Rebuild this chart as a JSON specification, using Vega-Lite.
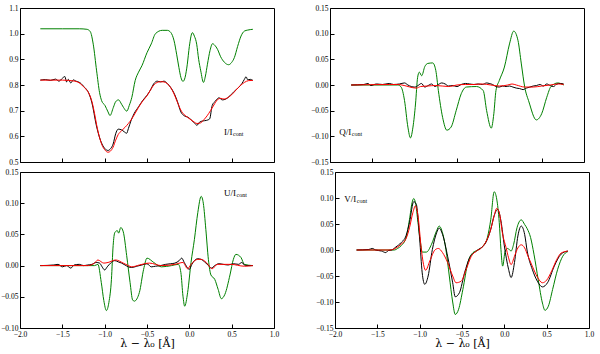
{
"$schema": "https://vega.github.io/schema/vega-lite/v6.json",
"background": "white",
"padding": {"left": 0, "top": 3, "right": 5, "bottom": 0},
"spacing": 1,
"datasets": {
"I": [
{"x":-1.76,"y":1.019,"s":"g"},{"x":-1.5,"y":1.019,"s":"g"},{"x":-1.3,"y":1.019,"s":"g"},{"x":-1.21,"y":1.017,"s":"g"},{"x":-1.17,"y":1.008,"s":"g"},{"x":-1.135,"y":0.959,"s":"g"},{"x":-1.095,"y":0.855,"s":"g"},{"x":-1.06,"y":0.77,"s":"g"},{"x":-1.036,"y":0.739,"s":"g"},{"x":-0.996,"y":0.72,"s":"g"},{"x":-0.96,"y":0.695,"s":"g"},{"x":-0.937,"y":0.681,"s":"g"},{"x":-0.897,"y":0.713,"s":"g"},{"x":-0.87,"y":0.735,"s":"g"},{"x":-0.837,"y":0.742,"s":"g"},{"x":-0.8,"y":0.725,"s":"g"},{"x":-0.778,"y":0.713,"s":"g"},{"x":-0.738,"y":0.698,"s":"g"},{"x":-0.71,"y":0.72,"s":"g"},{"x":-0.679,"y":0.752,"s":"g"},{"x":-0.64,"y":0.817,"s":"g"},{"x":-0.6,"y":0.85,"s":"g"},{"x":-0.56,"y":0.875,"s":"g"},{"x":-0.5,"y":0.926,"s":"g"},{"x":-0.45,"y":0.96,"s":"g"},{"x":-0.4,"y":1.0,"s":"g"},{"x":-0.32,"y":1.013,"s":"g"},{"x":-0.26,"y":1.013,"s":"g"},{"x":-0.22,"y":1.005,"s":"g"},{"x":-0.18,"y":0.972,"s":"g"},{"x":-0.15,"y":0.92,"s":"g"},{"x":-0.123,"y":0.868,"s":"g"},{"x":-0.1,"y":0.83,"s":"g"},{"x":-0.075,"y":0.814,"s":"g"},{"x":-0.05,"y":0.83,"s":"g"},{"x":-0.024,"y":0.881,"s":"g"},{"x":0.0,"y":0.95,"s":"g"},{"x":0.036,"y":1.004,"s":"g"},{"x":0.06,"y":0.99,"s":"g"},{"x":0.087,"y":0.959,"s":"g"},{"x":0.11,"y":0.9,"s":"g"},{"x":0.135,"y":0.855,"s":"g"},{"x":0.167,"y":0.81,"s":"g"},{"x":0.19,"y":0.835,"s":"g"},{"x":0.214,"y":0.881,"s":"g"},{"x":0.245,"y":0.935,"s":"g"},{"x":0.274,"y":0.961,"s":"g"},{"x":0.3,"y":0.955,"s":"g"},{"x":0.333,"y":0.939,"s":"g"},{"x":0.37,"y":0.91,"s":"g"},{"x":0.413,"y":0.889,"s":"g"},{"x":0.464,"y":0.879,"s":"g"},{"x":0.5,"y":0.888,"s":"g"},{"x":0.532,"y":0.907,"s":"g"},{"x":0.57,"y":0.95,"s":"g"},{"x":0.611,"y":0.991,"s":"g"},{"x":0.65,"y":1.01,"s":"g"},{"x":0.69,"y":1.014,"s":"g"},{"x":0.75,"y":1.017,"s":"g"},
{"x":-1.76,"y":0.819,"s":"k"},{"x":-1.7,"y":0.821,"s":"k"},{"x":-1.64,"y":0.818,"s":"k"},{"x":-1.58,"y":0.823,"s":"k"},{"x":-1.54,"y":0.815,"s":"k"},{"x":-1.5,"y":0.826,"s":"k"},{"x":-1.47,"y":0.833,"s":"k"},{"x":-1.45,"y":0.812,"s":"k"},{"x":-1.43,"y":0.822,"s":"k"},{"x":-1.4,"y":0.808,"s":"k"},{"x":-1.37,"y":0.82,"s":"k"},{"x":-1.34,"y":0.815,"s":"k"},{"x":-1.31,"y":0.812,"s":"k"},{"x":-1.28,"y":0.806,"s":"k"},{"x":-1.25,"y":0.795,"s":"k"},{"x":-1.22,"y":0.785,"s":"k"},{"x":-1.19,"y":0.77,"s":"k"},{"x":-1.15,"y":0.73,"s":"k"},{"x":-1.1,"y":0.645,"s":"k"},{"x":-1.05,"y":0.585,"s":"k"},{"x":-1.0,"y":0.553,"s":"k"},{"x":-0.96,"y":0.545,"s":"k"},{"x":-0.93,"y":0.552,"s":"k"},{"x":-0.9,"y":0.57,"s":"k"},{"x":-0.87,"y":0.61,"s":"k"},{"x":-0.84,"y":0.628,"s":"k"},{"x":-0.8,"y":0.625,"s":"k"},{"x":-0.77,"y":0.618,"s":"k"},{"x":-0.74,"y":0.612,"s":"k"},{"x":-0.72,"y":0.63,"s":"k"},{"x":-0.69,"y":0.66,"s":"k"},{"x":-0.65,"y":0.69,"s":"k"},{"x":-0.6,"y":0.715,"s":"k"},{"x":-0.55,"y":0.74,"s":"k"},{"x":-0.5,"y":0.76,"s":"k"},{"x":-0.46,"y":0.78,"s":"k"},{"x":-0.42,"y":0.805,"s":"k"},{"x":-0.38,"y":0.815,"s":"k"},{"x":-0.34,"y":0.812,"s":"k"},{"x":-0.3,"y":0.815,"s":"k"},{"x":-0.26,"y":0.806,"s":"k"},{"x":-0.22,"y":0.79,"s":"k"},{"x":-0.18,"y":0.768,"s":"k"},{"x":-0.14,"y":0.735,"s":"k"},{"x":-0.1,"y":0.695,"s":"k"},{"x":-0.06,"y":0.68,"s":"k"},{"x":-0.02,"y":0.675,"s":"k"},{"x":0.02,"y":0.665,"s":"k"},{"x":0.06,"y":0.652,"s":"k"},{"x":0.09,"y":0.643,"s":"k"},{"x":0.12,"y":0.655,"s":"k"},{"x":0.16,"y":0.66,"s":"k"},{"x":0.2,"y":0.662,"s":"k"},{"x":0.24,"y":0.668,"s":"k"},{"x":0.27,"y":0.72,"s":"k"},{"x":0.31,"y":0.738,"s":"k"},{"x":0.35,"y":0.75,"s":"k"},{"x":0.39,"y":0.742,"s":"k"},{"x":0.43,"y":0.745,"s":"k"},{"x":0.48,"y":0.758,"s":"k"},{"x":0.53,"y":0.775,"s":"k"},{"x":0.58,"y":0.79,"s":"k"},{"x":0.62,"y":0.805,"s":"k"},{"x":0.65,"y":0.822,"s":"k"},{"x":0.67,"y":0.832,"s":"k"},{"x":0.69,"y":0.82,"s":"k"},{"x":0.72,"y":0.822,"s":"k"},{"x":0.75,"y":0.818,"s":"k"},
{"x":-1.76,"y":0.819,"s":"r"},{"x":-1.5,"y":0.819,"s":"r"},{"x":-1.35,"y":0.815,"s":"r"},{"x":-1.29,"y":0.806,"s":"r"},{"x":-1.24,"y":0.79,"s":"r"},{"x":-1.2,"y":0.775,"s":"r"},{"x":-1.15,"y":0.735,"s":"r"},{"x":-1.12,"y":0.69,"s":"r"},{"x":-1.095,"y":0.645,"s":"r"},{"x":-1.06,"y":0.595,"s":"r"},{"x":-1.03,"y":0.565,"s":"r"},{"x":-1.0,"y":0.548,"s":"r"},{"x":-0.96,"y":0.538,"s":"r"},{"x":-0.93,"y":0.543,"s":"r"},{"x":-0.9,"y":0.558,"s":"r"},{"x":-0.87,"y":0.585,"s":"r"},{"x":-0.84,"y":0.607,"s":"r"},{"x":-0.8,"y":0.622,"s":"r"},{"x":-0.76,"y":0.635,"s":"r"},{"x":-0.72,"y":0.65,"s":"r"},{"x":-0.68,"y":0.668,"s":"r"},{"x":-0.64,"y":0.69,"s":"r"},{"x":-0.6,"y":0.713,"s":"r"},{"x":-0.55,"y":0.738,"s":"r"},{"x":-0.5,"y":0.758,"s":"r"},{"x":-0.46,"y":0.78,"s":"r"},{"x":-0.42,"y":0.8,"s":"r"},{"x":-0.38,"y":0.81,"s":"r"},{"x":-0.34,"y":0.813,"s":"r"},{"x":-0.3,"y":0.812,"s":"r"},{"x":-0.26,"y":0.805,"s":"r"},{"x":-0.22,"y":0.79,"s":"r"},{"x":-0.18,"y":0.765,"s":"r"},{"x":-0.14,"y":0.732,"s":"r"},{"x":-0.1,"y":0.702,"s":"r"},{"x":-0.06,"y":0.684,"s":"r"},{"x":-0.02,"y":0.674,"s":"r"},{"x":0.02,"y":0.664,"s":"r"},{"x":0.06,"y":0.655,"s":"r"},{"x":0.09,"y":0.65,"s":"r"},{"x":0.13,"y":0.652,"s":"r"},{"x":0.17,"y":0.664,"s":"r"},{"x":0.21,"y":0.68,"s":"r"},{"x":0.25,"y":0.7,"s":"r"},{"x":0.29,"y":0.722,"s":"r"},{"x":0.33,"y":0.742,"s":"r"},{"x":0.37,"y":0.748,"s":"r"},{"x":0.41,"y":0.745,"s":"r"},{"x":0.45,"y":0.75,"s":"r"},{"x":0.5,"y":0.762,"s":"r"},{"x":0.55,"y":0.78,"s":"r"},{"x":0.6,"y":0.797,"s":"r"},{"x":0.65,"y":0.81,"s":"r"},{"x":0.7,"y":0.817,"s":"r"},{"x":0.75,"y":0.818,"s":"r"}
],
"Q": [
{"x":-1.75,"y":0,"s":"g"},{"x":-1.2,"y":0,"s":"g"},{"x":-1.16,"y":-0.004,"s":"g"},{"x":-1.12,"y":-0.03,"s":"g"},{"x":-1.08,"y":-0.082,"s":"g"},{"x":-1.05,"y":-0.103,"s":"g"},{"x":-1.02,"y":-0.082,"s":"g"},{"x":-0.99,"y":-0.037,"s":"g"},{"x":-0.965,"y":0.015,"s":"g"},{"x":-0.945,"y":0.025,"s":"g"},{"x":-0.917,"y":0.018,"s":"g"},{"x":-0.88,"y":0.036,"s":"g"},{"x":-0.846,"y":0.042,"s":"g"},{"x":-0.787,"y":0.043,"s":"g"},{"x":-0.75,"y":0.028,"s":"g"},{"x":-0.72,"y":-0.011,"s":"g"},{"x":-0.67,"y":-0.063,"s":"g"},{"x":-0.62,"y":-0.088,"s":"g"},{"x":-0.57,"y":-0.082,"s":"g"},{"x":-0.51,"y":-0.05,"s":"g"},{"x":-0.45,"y":-0.017,"s":"g"},{"x":-0.39,"y":-0.004,"s":"g"},{"x":-0.27,"y":-0.003,"s":"g"},{"x":-0.19,"y":-0.011,"s":"g"},{"x":-0.15,"y":-0.05,"s":"g"},{"x":-0.095,"y":-0.084,"s":"g"},{"x":-0.065,"y":-0.056,"s":"g"},{"x":-0.04,"y":-0.011,"s":"g"},{"x":0.0,"y":0.009,"s":"g"},{"x":0.06,"y":0.035,"s":"g"},{"x":0.12,"y":0.08,"s":"g"},{"x":0.17,"y":0.105,"s":"g"},{"x":0.22,"y":0.087,"s":"g"},{"x":0.26,"y":0.041,"s":"g"},{"x":0.3,"y":-0.004,"s":"g"},{"x":0.35,"y":-0.033,"s":"g"},{"x":0.437,"y":-0.068,"s":"g"},{"x":0.5,"y":-0.056,"s":"g"},{"x":0.56,"y":-0.024,"s":"g"},{"x":0.61,"y":-0.003,"s":"g"},{"x":0.69,"y":0.004,"s":"g"},{"x":0.76,"y":0.0,"s":"g"},
{"x":-1.75,"y":0,"s":"k"},{"x":-1.6,"y":0.001,"s":"k"},{"x":-1.55,"y":0.003,"s":"k"},{"x":-1.52,"y":-0.001,"s":"k"},{"x":-1.45,"y":0.002,"s":"k"},{"x":-1.38,"y":0.001,"s":"k"},{"x":-1.3,"y":0.003,"s":"k"},{"x":-1.25,"y":0.001,"s":"k"},{"x":-1.18,"y":0.002,"s":"k"},{"x":-1.12,"y":0.004,"s":"k"},{"x":-1.08,"y":0.0,"s":"k"},{"x":-1.04,"y":-0.003,"s":"k"},{"x":-1.0,"y":-0.004,"s":"k"},{"x":-0.96,"y":-0.001,"s":"k"},{"x":-0.92,"y":0.003,"s":"k"},{"x":-0.88,"y":-0.004,"s":"k"},{"x":-0.84,"y":-0.001,"s":"k"},{"x":-0.8,"y":0.002,"s":"k"},{"x":-0.76,"y":-0.003,"s":"k"},{"x":-0.72,"y":0.001,"s":"k"},{"x":-0.68,"y":0.004,"s":"k"},{"x":-0.64,"y":0.002,"s":"k"},{"x":-0.6,"y":-0.002,"s":"k"},{"x":-0.56,"y":-0.001,"s":"k"},{"x":-0.5,"y":-0.003,"s":"k"},{"x":-0.45,"y":0.001,"s":"k"},{"x":-0.4,"y":0.003,"s":"k"},{"x":-0.35,"y":0.002,"s":"k"},{"x":-0.3,"y":0.001,"s":"k"},{"x":-0.25,"y":0.002,"s":"k"},{"x":-0.2,"y":0.001,"s":"k"},{"x":-0.15,"y":0.004,"s":"k"},{"x":-0.12,"y":0.003,"s":"k"},{"x":-0.08,"y":0.001,"s":"k"},{"x":-0.04,"y":-0.003,"s":"k"},{"x":0.0,"y":-0.004,"s":"k"},{"x":0.04,"y":-0.002,"s":"k"},{"x":0.08,"y":-0.003,"s":"k"},{"x":0.12,"y":-0.002,"s":"k"},{"x":0.16,"y":-0.004,"s":"k"},{"x":0.2,"y":-0.006,"s":"k"},{"x":0.24,"y":-0.007,"s":"k"},{"x":0.28,"y":-0.009,"s":"k"},{"x":0.32,"y":-0.006,"s":"k"},{"x":0.36,"y":-0.004,"s":"k"},{"x":0.4,"y":-0.002,"s":"k"},{"x":0.44,"y":-0.001,"s":"k"},{"x":0.48,"y":0.001,"s":"k"},{"x":0.52,"y":-0.002,"s":"k"},{"x":0.56,"y":0.002,"s":"k"},{"x":0.6,"y":-0.001,"s":"k"},{"x":0.64,"y":-0.003,"s":"k"},{"x":0.68,"y":0.002,"s":"k"},{"x":0.72,"y":0.003,"s":"k"},{"x":0.76,"y":0.002,"s":"k"},
{"x":-1.75,"y":0,"s":"r"},{"x":-1.3,"y":0.001,"s":"r"},{"x":-1.2,"y":0.001,"s":"r"},{"x":-1.1,"y":-0.002,"s":"r"},{"x":-1.03,"y":-0.005,"s":"r"},{"x":-0.98,"y":-0.006,"s":"r"},{"x":-0.93,"y":-0.003,"s":"r"},{"x":-0.85,"y":-0.002,"s":"r"},{"x":-0.75,"y":-0.001,"s":"r"},{"x":-0.6,"y":-0.003,"s":"r"},{"x":-0.5,"y":0.0,"s":"r"},{"x":-0.4,"y":0.001,"s":"r"},{"x":-0.3,"y":0.001,"s":"r"},{"x":-0.2,"y":0.002,"s":"r"},{"x":-0.1,"y":0.0,"s":"r"},{"x":0.0,"y":-0.002,"s":"r"},{"x":0.1,"y":0.0,"s":"r"},{"x":0.15,"y":0.002,"s":"r"},{"x":0.2,"y":0.0,"s":"r"},{"x":0.3,"y":-0.004,"s":"r"},{"x":0.4,"y":-0.004,"s":"r"},{"x":0.5,"y":-0.002,"s":"r"},{"x":0.6,"y":0.0,"s":"r"},{"x":0.7,"y":0.002,"s":"r"},{"x":0.76,"y":0.001,"s":"r"}
],
"U": [
{"x":-1.76,"y":0,"s":"g"},{"x":-1.12,"y":0,"s":"g"},{"x":-1.08,"y":0.002,"s":"g"},{"x":-1.04,"y":-0.027,"s":"g"},{"x":-1.01,"y":-0.056,"s":"g"},{"x":-0.98,"y":-0.072,"s":"g"},{"x":-0.95,"y":-0.059,"s":"g"},{"x":-0.92,"y":-0.022,"s":"g"},{"x":-0.9,"y":0.032,"s":"g"},{"x":-0.88,"y":0.053,"s":"g"},{"x":-0.85,"y":0.056,"s":"g"},{"x":-0.835,"y":0.052,"s":"g"},{"x":-0.81,"y":0.061,"s":"g"},{"x":-0.78,"y":0.054,"s":"g"},{"x":-0.74,"y":0.016,"s":"g"},{"x":-0.7,"y":-0.027,"s":"g"},{"x":-0.67,"y":-0.055,"s":"g"},{"x":-0.65,"y":-0.057,"s":"g"},{"x":-0.59,"y":-0.043,"s":"g"},{"x":-0.54,"y":-0.006,"s":"g"},{"x":-0.5,"y":0.012,"s":"g"},{"x":-0.42,"y":0.005,"s":"g"},{"x":-0.33,"y":-0.002,"s":"g"},{"x":-0.21,"y":0.0,"s":"g"},{"x":-0.13,"y":0.002,"s":"g"},{"x":-0.1,"y":-0.011,"s":"g"},{"x":-0.075,"y":-0.049,"s":"g"},{"x":-0.055,"y":-0.065,"s":"g"},{"x":-0.02,"y":-0.043,"s":"g"},{"x":0.02,"y":0.005,"s":"g"},{"x":0.06,"y":0.042,"s":"g"},{"x":0.1,"y":0.085,"s":"g"},{"x":0.14,"y":0.111,"s":"g"},{"x":0.165,"y":0.1,"s":"g"},{"x":0.195,"y":0.058,"s":"g"},{"x":0.225,"y":0.01,"s":"g"},{"x":0.255,"y":-0.015,"s":"g"},{"x":0.3,"y":-0.022,"s":"g"},{"x":0.34,"y":-0.038,"s":"g"},{"x":0.378,"y":-0.053,"s":"g"},{"x":0.42,"y":-0.046,"s":"g"},{"x":0.48,"y":-0.015,"s":"g"},{"x":0.52,"y":0.01,"s":"g"},{"x":0.55,"y":0.018,"s":"g"},{"x":0.61,"y":0.013,"s":"g"},{"x":0.65,"y":0.002,"s":"g"},{"x":0.75,"y":0.0,"s":"g"},
{"x":-1.76,"y":0,"s":"k"},{"x":-1.6,"y":0.001,"s":"k"},{"x":-1.55,"y":0.002,"s":"k"},{"x":-1.5,"y":-0.002,"s":"k"},{"x":-1.45,"y":0.0,"s":"k"},{"x":-1.4,"y":-0.004,"s":"k"},{"x":-1.36,"y":0.001,"s":"k"},{"x":-1.3,"y":0.002,"s":"k"},{"x":-1.25,"y":0.0,"s":"k"},{"x":-1.2,"y":0.001,"s":"k"},{"x":-1.15,"y":0.002,"s":"k"},{"x":-1.1,"y":0.005,"s":"k"},{"x":-1.06,"y":0.004,"s":"k"},{"x":-1.03,"y":-0.002,"s":"k"},{"x":-1.0,"y":-0.007,"s":"k"},{"x":-0.97,"y":-0.002,"s":"k"},{"x":-0.93,"y":0.004,"s":"k"},{"x":-0.88,"y":0.008,"s":"k"},{"x":-0.84,"y":0.006,"s":"k"},{"x":-0.8,"y":0.004,"s":"k"},{"x":-0.76,"y":0.001,"s":"k"},{"x":-0.72,"y":-0.002,"s":"k"},{"x":-0.68,"y":-0.003,"s":"k"},{"x":-0.62,"y":-0.001,"s":"k"},{"x":-0.56,"y":0.001,"s":"k"},{"x":-0.5,"y":0.003,"s":"k"},{"x":-0.45,"y":-0.002,"s":"k"},{"x":-0.4,"y":-0.001,"s":"k"},{"x":-0.34,"y":0.0,"s":"k"},{"x":-0.28,"y":0.002,"s":"k"},{"x":-0.22,"y":0.003,"s":"k"},{"x":-0.17,"y":0.004,"s":"k"},{"x":-0.12,"y":0.008,"s":"k"},{"x":-0.09,"y":0.012,"s":"k"},{"x":-0.06,"y":0.005,"s":"k"},{"x":-0.03,"y":-0.002,"s":"k"},{"x":0.0,"y":-0.006,"s":"k"},{"x":0.03,"y":0.002,"s":"k"},{"x":0.06,"y":0.008,"s":"k"},{"x":0.1,"y":0.011,"s":"k"},{"x":0.14,"y":0.01,"s":"k"},{"x":0.18,"y":0.006,"s":"k"},{"x":0.22,"y":0.001,"s":"k"},{"x":0.26,"y":-0.004,"s":"k"},{"x":0.3,"y":0.0,"s":"k"},{"x":0.35,"y":0.003,"s":"k"},{"x":0.4,"y":0.002,"s":"k"},{"x":0.46,"y":0.001,"s":"k"},{"x":0.52,"y":0.003,"s":"k"},{"x":0.58,"y":0.002,"s":"k"},{"x":0.62,"y":0.005,"s":"k"},{"x":0.66,"y":0.0,"s":"k"},{"x":0.75,"y":0.0,"s":"k"},
{"x":-1.76,"y":0,"s":"r"},{"x":-1.2,"y":0.0,"s":"r"},{"x":-1.12,"y":0.004,"s":"r"},{"x":-1.08,"y":0.009,"s":"r"},{"x":-1.01,"y":0.004,"s":"r"},{"x":-0.96,"y":0.005,"s":"r"},{"x":-0.87,"y":0.009,"s":"r"},{"x":-0.78,"y":0.004,"s":"r"},{"x":-0.72,"y":0.0,"s":"r"},{"x":-0.68,"y":-0.002,"s":"r"},{"x":-0.59,"y":0.001,"s":"r"},{"x":-0.47,"y":0.004,"s":"r"},{"x":-0.33,"y":0.0,"s":"r"},{"x":-0.17,"y":0.002,"s":"r"},{"x":-0.075,"y":0.005,"s":"r"},{"x":-0.02,"y":-0.005,"s":"r"},{"x":0.02,"y":0.002,"s":"r"},{"x":0.1,"y":0.01,"s":"r"},{"x":0.14,"y":0.01,"s":"r"},{"x":0.2,"y":0.005,"s":"r"},{"x":0.27,"y":-0.005,"s":"r"},{"x":0.33,"y":0.002,"s":"r"},{"x":0.49,"y":0.002,"s":"r"},{"x":0.65,"y":-0.001,"s":"r"},{"x":0.75,"y":0.0,"s":"r"}
],
"V": [
{"x":-1.745,"y":0,"s":"g"},{"x":-1.3,"y":0,"s":"g"},{"x":-1.26,"y":0.003,"s":"g"},{"x":-1.22,"y":0.008,"s":"g"},{"x":-1.16,"y":0.024,"s":"g"},{"x":-1.12,"y":0.059,"s":"g"},{"x":-1.09,"y":0.091,"s":"g"},{"x":-1.07,"y":0.099,"s":"g"},{"x":-1.05,"y":0.091,"s":"g"},{"x":-1.02,"y":0.053,"s":"g"},{"x":-0.99,"y":0.014,"s":"g"},{"x":-0.97,"y":-0.004,"s":"g"},{"x":-0.92,"y":-0.004,"s":"g"},{"x":-0.86,"y":0.011,"s":"g"},{"x":-0.8,"y":0.037,"s":"g"},{"x":-0.77,"y":0.046,"s":"g"},{"x":-0.73,"y":0.033,"s":"g"},{"x":-0.69,"y":0.001,"s":"g"},{"x":-0.65,"y":-0.05,"s":"g"},{"x":-0.61,"y":-0.1,"s":"g"},{"x":-0.58,"y":-0.124,"s":"g"},{"x":-0.54,"y":-0.114,"s":"g"},{"x":-0.49,"y":-0.076,"s":"g"},{"x":-0.43,"y":-0.024,"s":"g"},{"x":-0.37,"y":-0.005,"s":"g"},{"x":-0.31,"y":0.0,"s":"g"},{"x":-0.25,"y":0.008,"s":"g"},{"x":-0.2,"y":0.024,"s":"g"},{"x":-0.16,"y":0.059,"s":"g"},{"x":-0.12,"y":0.112,"s":"g"},{"x":-0.09,"y":0.098,"s":"g"},{"x":-0.06,"y":0.053,"s":"g"},{"x":-0.04,"y":0.001,"s":"g"},{"x":-0.02,"y":-0.031,"s":"g"},{"x":0.01,"y":-0.002,"s":"g"},{"x":0.04,"y":0.003,"s":"g"},{"x":0.08,"y":-0.002,"s":"g"},{"x":0.11,"y":0.011,"s":"g"},{"x":0.15,"y":0.043,"s":"g"},{"x":0.2,"y":0.058,"s":"g"},{"x":0.24,"y":0.049,"s":"g"},{"x":0.27,"y":0.041,"s":"g"},{"x":0.31,"y":0.024,"s":"g"},{"x":0.35,"y":-0.008,"s":"g"},{"x":0.4,"y":-0.057,"s":"g"},{"x":0.45,"y":-0.102,"s":"g"},{"x":0.48,"y":-0.116,"s":"g"},{"x":0.52,"y":-0.108,"s":"g"},{"x":0.57,"y":-0.076,"s":"g"},{"x":0.63,"y":-0.037,"s":"g"},{"x":0.69,"y":-0.012,"s":"g"},{"x":0.75,"y":-0.003,"s":"g"},
{"x":-1.745,"y":0,"s":"k"},{"x":-1.6,"y":0.001,"s":"k"},{"x":-1.56,"y":0.003,"s":"k"},{"x":-1.52,"y":0.0,"s":"k"},{"x":-1.45,"y":-0.002,"s":"k"},{"x":-1.4,"y":-0.005,"s":"k"},{"x":-1.37,"y":-0.001,"s":"k"},{"x":-1.33,"y":0.0,"s":"k"},{"x":-1.28,"y":0.006,"s":"k"},{"x":-1.22,"y":0.014,"s":"k"},{"x":-1.16,"y":0.028,"s":"k"},{"x":-1.12,"y":0.053,"s":"k"},{"x":-1.07,"y":0.093,"s":"k"},{"x":-1.04,"y":0.088,"s":"k"},{"x":-1.0,"y":0.021,"s":"k"},{"x":-0.97,"y":-0.044,"s":"k"},{"x":-0.94,"y":-0.066,"s":"k"},{"x":-0.9,"y":-0.05,"s":"k"},{"x":-0.85,"y":0.001,"s":"k"},{"x":-0.8,"y":0.033,"s":"k"},{"x":-0.77,"y":0.042,"s":"k"},{"x":-0.73,"y":0.03,"s":"k"},{"x":-0.67,"y":-0.012,"s":"k"},{"x":-0.61,"y":-0.063,"s":"k"},{"x":-0.58,"y":-0.09,"s":"k"},{"x":-0.53,"y":-0.082,"s":"k"},{"x":-0.47,"y":-0.044,"s":"k"},{"x":-0.41,"y":-0.015,"s":"k"},{"x":-0.33,"y":-0.002,"s":"k"},{"x":-0.22,"y":0.014,"s":"k"},{"x":-0.16,"y":0.04,"s":"k"},{"x":-0.12,"y":0.066,"s":"k"},{"x":-0.08,"y":0.078,"s":"k"},{"x":-0.04,"y":0.056,"s":"k"},{"x":0.0,"y":0.008,"s":"k"},{"x":0.05,"y":-0.037,"s":"k"},{"x":0.08,"y":-0.053,"s":"k"},{"x":0.12,"y":-0.024,"s":"k"},{"x":0.16,"y":0.027,"s":"k"},{"x":0.2,"y":0.046,"s":"k"},{"x":0.24,"y":0.03,"s":"k"},{"x":0.27,"y":-0.002,"s":"k"},{"x":0.33,"y":-0.037,"s":"k"},{"x":0.39,"y":-0.06,"s":"k"},{"x":0.45,"y":-0.071,"s":"k"},{"x":0.51,"y":-0.063,"s":"k"},{"x":0.59,"y":-0.031,"s":"k"},{"x":0.67,"y":-0.008,"s":"k"},{"x":0.75,"y":-0.002,"s":"k"},
{"x":-1.745,"y":0,"s":"r"},{"x":-1.35,"y":0.0,"s":"r"},{"x":-1.29,"y":0.003,"s":"r"},{"x":-1.22,"y":0.011,"s":"r"},{"x":-1.16,"y":0.022,"s":"r"},{"x":-1.12,"y":0.043,"s":"r"},{"x":-1.08,"y":0.072,"s":"r"},{"x":-1.05,"y":0.085,"s":"r"},{"x":-1.02,"y":0.066,"s":"r"},{"x":-0.98,"y":0.001,"s":"r"},{"x":-0.95,"y":-0.031,"s":"r"},{"x":-0.93,"y":-0.039,"s":"r"},{"x":-0.88,"y":-0.021,"s":"r"},{"x":-0.82,"y":0.0,"s":"r"},{"x":-0.78,"y":0.003,"s":"r"},{"x":-0.73,"y":-0.005,"s":"r"},{"x":-0.67,"y":-0.024,"s":"r"},{"x":-0.61,"y":-0.05,"s":"r"},{"x":-0.57,"y":-0.063,"s":"r"},{"x":-0.51,"y":-0.06,"s":"r"},{"x":-0.45,"y":-0.037,"s":"r"},{"x":-0.39,"y":-0.012,"s":"r"},{"x":-0.33,"y":-0.002,"s":"r"},{"x":-0.27,"y":0.004,"s":"r"},{"x":-0.22,"y":0.015,"s":"r"},{"x":-0.16,"y":0.04,"s":"r"},{"x":-0.12,"y":0.066,"s":"r"},{"x":-0.09,"y":0.08,"s":"r"},{"x":-0.06,"y":0.072,"s":"r"},{"x":-0.02,"y":0.03,"s":"r"},{"x":0.02,"y":0.005,"s":"r"},{"x":0.05,"y":-0.015,"s":"r"},{"x":0.08,"y":-0.028,"s":"r"},{"x":0.12,"y":-0.012,"s":"r"},{"x":0.16,"y":0.004,"s":"r"},{"x":0.2,"y":0.01,"s":"r"},{"x":0.24,"y":0.004,"s":"r"},{"x":0.28,"y":-0.012,"s":"r"},{"x":0.33,"y":-0.031,"s":"r"},{"x":0.39,"y":-0.052,"s":"r"},{"x":0.45,"y":-0.063,"s":"r"},{"x":0.5,"y":-0.058,"s":"r"},{"x":0.56,"y":-0.04,"s":"r"},{"x":0.62,"y":-0.018,"s":"r"},{"x":0.67,"y":-0.006,"s":"r"},{"x":0.75,"y":-0.002,"s":"r"}
]
},
"vconcat": [
{"hconcat": [
{"width": 254, "height": 154,
 "layer": [
  {"data": {"name": "I"}, "mark": {"type": "line", "strokeWidth": 1, "interpolate": "monotone"},
   "encoding": {
    "x": {"field": "x", "type": "quantitative", "scale": {"domain": [-2, 1], "nice": false, "zero": false}, "axis": {"labels": false, "title": null, "values": [-2, -1.5, -1, -0.5, 0, 0.5, 1]}},
    "y": {"field": "y", "type": "quantitative", "scale": {"domain": [0.5, 1.1], "nice": false, "zero": false}, "axis": {"title": null, "values": [0.5, 0.6, 0.7, 0.8, 0.9, 1.0, 1.1], "format": ".1f"}},
    "color": {"field": "s", "type": "nominal", "scale": {"domain": ["g", "k", "r"], "range": ["#008000", "#000000", "#ff0000"]}, "legend": null}}},
  {"data": {"values": [{}]}, "mark": {"type": "text", "align": "left", "baseline": "middle", "fontSize": 9, "font": "Liberation Serif", "color": "#000"},
   "encoding": {"x": {"datum": 0.41, "type": "quantitative", "scale": {"domain": [-2, 1], "nice": false, "zero": false}, "axis": {"labels": false, "title": null, "values": [-2, -1.5, -1, -0.5, 0, 0.5, 1]}}, "y": {"datum": 0.616, "type": "quantitative", "scale": {"domain": [0.5, 1.1], "nice": false, "zero": false}, "axis": {"title": null, "values": [0.5, 0.6, 0.7, 0.8, 0.9, 1.0, 1.1], "format": ".1f"}}, "text": {"value": "I/I"}}},
  {"data": {"values": [{}]}, "mark": {"type": "text", "align": "left", "baseline": "middle", "fontSize": 6, "font": "Liberation Serif", "color": "#000", "dx": 9, "dy": 2},
   "encoding": {"x": {"datum": 0.41, "type": "quantitative", "scale": {"domain": [-2, 1], "nice": false, "zero": false}, "axis": {"labels": false, "title": null, "values": [-2, -1.5, -1, -0.5, 0, 0.5, 1]}}, "y": {"datum": 0.616, "type": "quantitative", "scale": {"domain": [0.5, 1.1], "nice": false, "zero": false}, "axis": {"title": null, "values": [0.5, 0.6, 0.7, 0.8, 0.9, 1.0, 1.1], "format": ".1f"}}, "text": {"value": "cont"}}}
 ]},
{"width": 254, "height": 154,
 "layer": [
  {"data": {"name": "Q"}, "mark": {"type": "line", "strokeWidth": 1, "interpolate": "monotone"},
   "encoding": {
    "x": {"field": "x", "type": "quantitative", "scale": {"domain": [-2, 1], "nice": false, "zero": false}, "axis": {"labels": false, "title": null, "values": [-2, -1.5, -1, -0.5, 0, 0.5, 1]}},
    "y": {"field": "y", "type": "quantitative", "scale": {"domain": [-0.15, 0.15], "nice": false, "zero": false}, "axis": {"title": null, "values": [-0.15, -0.1, -0.05, 0, 0.05, 0.1, 0.15], "format": ".2f"}},
    "color": {"field": "s", "type": "nominal", "scale": {"domain": ["g", "k", "r"], "range": ["#008000", "#000000", "#ff0000"]}, "legend": null}}},
  {"data": {"values": [{}]}, "mark": {"type": "text", "align": "left", "baseline": "middle", "fontSize": 9, "font": "Liberation Serif", "color": "#000"},
   "encoding": {"x": {"datum": -1.89, "type": "quantitative", "scale": {"domain": [-2, 1], "nice": false, "zero": false}, "axis": {"labels": false, "title": null, "values": [-2, -1.5, -1, -0.5, 0, 0.5, 1]}}, "y": {"datum": -0.092, "type": "quantitative", "scale": {"domain": [-0.15, 0.15], "nice": false, "zero": false}, "axis": {"title": null, "values": [-0.15, -0.1, -0.05, 0, 0.05, 0.1, 0.15], "format": ".2f"}}, "text": {"value": "Q/I"}}},
  {"data": {"values": [{}]}, "mark": {"type": "text", "align": "left", "baseline": "middle", "fontSize": 6, "font": "Liberation Serif", "color": "#000", "dx": 12.5, "dy": 2},
   "encoding": {"x": {"datum": -1.89, "type": "quantitative", "scale": {"domain": [-2, 1], "nice": false, "zero": false}, "axis": {"labels": false, "title": null, "values": [-2, -1.5, -1, -0.5, 0, 0.5, 1]}}, "y": {"datum": -0.092, "type": "quantitative", "scale": {"domain": [-0.15, 0.15], "nice": false, "zero": false}, "axis": {"title": null, "values": [-0.15, -0.1, -0.05, 0, 0.05, 0.1, 0.15], "format": ".2f"}}, "text": {"value": "cont"}}}
 ]}
]},
{"hconcat": [
{"width": 254, "height": 156,
 "layer": [
  {"data": {"name": "U"}, "mark": {"type": "line", "strokeWidth": 1, "interpolate": "monotone"},
   "encoding": {
    "x": {"field": "x", "type": "quantitative", "scale": {"domain": [-2, 1], "nice": false, "zero": false}, "axis": {"title": "λ − λ₀ [Å]", "values": [-2, -1.5, -1, -0.5, 0, 0.5, 1], "format": ".1f"}},
    "y": {"field": "y", "type": "quantitative", "scale": {"domain": [-0.1, 0.15], "nice": false, "zero": false}, "axis": {"title": null, "values": [-0.1, -0.05, 0, 0.05, 0.1, 0.15], "format": ".2f"}},
    "color": {"field": "s", "type": "nominal", "scale": {"domain": ["g", "k", "r"], "range": ["#008000", "#000000", "#ff0000"]}, "legend": null}}},
  {"data": {"values": [{}]}, "mark": {"type": "text", "align": "left", "baseline": "middle", "fontSize": 9, "font": "Liberation Serif", "color": "#000"},
   "encoding": {"x": {"datum": 0.41, "type": "quantitative", "scale": {"domain": [-2, 1], "nice": false, "zero": false}, "axis": {"title": "λ − λ₀ [Å]", "values": [-2, -1.5, -1, -0.5, 0, 0.5, 1], "format": ".1f"}}, "y": {"datum": 0.117, "type": "quantitative", "scale": {"domain": [-0.1, 0.15], "nice": false, "zero": false}, "axis": {"title": null, "values": [-0.1, -0.05, 0, 0.05, 0.1, 0.15], "format": ".2f"}}, "text": {"value": "U/I"}}},
  {"data": {"values": [{}]}, "mark": {"type": "text", "align": "left", "baseline": "middle", "fontSize": 6, "font": "Liberation Serif", "color": "#000", "dx": 12.5, "dy": 2},
   "encoding": {"x": {"datum": 0.41, "type": "quantitative", "scale": {"domain": [-2, 1], "nice": false, "zero": false}, "axis": {"title": "λ − λ₀ [Å]", "values": [-2, -1.5, -1, -0.5, 0, 0.5, 1], "format": ".1f"}}, "y": {"datum": 0.117, "type": "quantitative", "scale": {"domain": [-0.1, 0.15], "nice": false, "zero": false}, "axis": {"title": null, "values": [-0.1, -0.05, 0, 0.05, 0.1, 0.15], "format": ".2f"}}, "text": {"value": "cont"}}}
 ]},
{"width": 254, "height": 156,
 "layer": [
  {"data": {"name": "V"}, "mark": {"type": "line", "strokeWidth": 1, "interpolate": "monotone"},
   "encoding": {
    "x": {"field": "x", "type": "quantitative", "scale": {"domain": [-2, 1], "nice": false, "zero": false}, "axis": {"title": "λ − λ₀ [Å]", "values": [-2, -1.5, -1, -0.5, 0, 0.5, 1], "format": ".1f"}},
    "y": {"field": "y", "type": "quantitative", "scale": {"domain": [-0.15, 0.15], "nice": false, "zero": false}, "axis": {"title": null, "values": [-0.15, -0.1, -0.05, 0, 0.05, 0.1, 0.15], "format": ".2f"}},
    "color": {"field": "s", "type": "nominal", "scale": {"domain": ["g", "k", "r"], "range": ["#008000", "#000000", "#ff0000"]}, "legend": null}}},
  {"data": {"values": [{}]}, "mark": {"type": "text", "align": "left", "baseline": "middle", "fontSize": 9, "font": "Liberation Serif", "color": "#000"},
   "encoding": {"x": {"datum": -1.89, "type": "quantitative", "scale": {"domain": [-2, 1], "nice": false, "zero": false}, "axis": {"title": "λ − λ₀ [Å]", "values": [-2, -1.5, -1, -0.5, 0, 0.5, 1], "format": ".1f"}}, "y": {"datum": 0.098, "type": "quantitative", "scale": {"domain": [-0.15, 0.15], "nice": false, "zero": false}, "axis": {"title": null, "values": [-0.15, -0.1, -0.05, 0, 0.05, 0.1, 0.15], "format": ".2f"}}, "text": {"value": "V/I"}}},
  {"data": {"values": [{}]}, "mark": {"type": "text", "align": "left", "baseline": "middle", "fontSize": 6, "font": "Liberation Serif", "color": "#000", "dx": 12.5, "dy": 2},
   "encoding": {"x": {"datum": -1.89, "type": "quantitative", "scale": {"domain": [-2, 1], "nice": false, "zero": false}, "axis": {"title": "λ − λ₀ [Å]", "values": [-2, -1.5, -1, -0.5, 0, 0.5, 1], "format": ".1f"}}, "y": {"datum": 0.098, "type": "quantitative", "scale": {"domain": [-0.15, 0.15], "nice": false, "zero": false}, "axis": {"title": null, "values": [-0.15, -0.1, -0.05, 0, 0.05, 0.1, 0.15], "format": ".2f"}}, "text": {"value": "cont"}}}
 ]}
]}
],
"config": {
 "font": "Liberation Serif",
 "view": {"stroke": "#000", "strokeWidth": 1},
 "concat": {"spacing": 35},
 "axis": {"grid": false, "domain": false, "ticks": true, "tickSize": -4, "tickColor": "#000", "labelPadding": 6, "labelFont": "Liberation Serif", "labelFontSize": 7.5, "labelColor": "#000", "labelOverlap": false, "labelFlush": false, "labelBound": false, "titleFont": "DejaVu Serif", "titleFontSize": 11, "titleFontWeight": "normal", "titleColor": "#000", "titlePadding": 0}
}
}
